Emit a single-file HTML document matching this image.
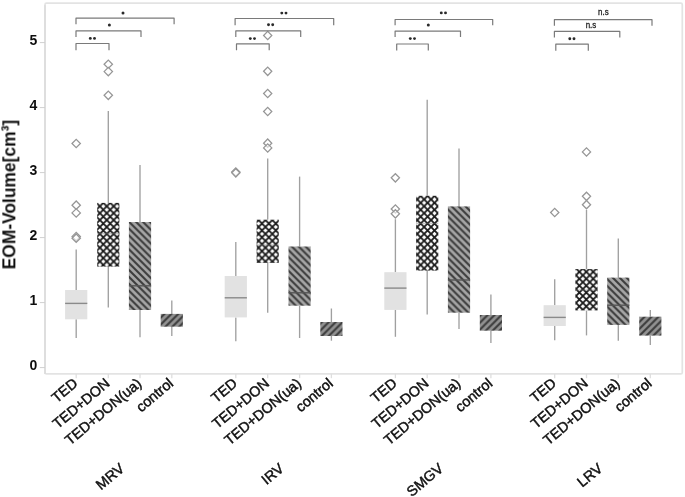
<!DOCTYPE html>
<html><head><meta charset="utf-8"><title>EOM-Volume box plot</title>
<style>
html,body{margin:0;padding:0;background:#fff;}
body{width:685px;height:497px;overflow:hidden;font-family:"Liberation Sans",sans-serif;}
svg{display:block;}
text{font-family:"Liberation Sans",sans-serif;}
</style></head><body>
<svg width="685" height="497" viewBox="0 0 685 497">
<defs>
<pattern id="xh" patternUnits="userSpaceOnUse" width="6.9" height="6.9" patternTransform="translate(3.25,6.2)">
<rect width="6.9" height="6.9" fill="#fff"/>
<path d="M-1,-1 L7.9,7.9 M-1,7.9 L7.9,-1" stroke="#1a1a1a" stroke-width="1.8" fill="none"/>
</pattern>
<pattern id="bs" patternUnits="userSpaceOnUse" width="6.9" height="6.9" patternTransform="translate(3.9,0)">
<rect width="6.9" height="6.9" fill="#a6a6a6"/>
<path d="M-1,-1 L7.9,7.9 M-1,5.9 L1,7.9 M5.9,-1 L7.9,1" stroke="#3c3c3c" stroke-width="2.1" fill="none"/>
</pattern>
<pattern id="fs" patternUnits="userSpaceOnUse" width="6.9" height="6.9" patternTransform="translate(2.3,0)">
<rect width="6.9" height="6.9" fill="#929292"/>
<path d="M-1,7.9 L7.9,-1 M-1,1 L1,-1 M5.9,7.9 L7.9,5.9" stroke="#3c3c3c" stroke-width="2.1" fill="none"/>
</pattern>
<filter id="soft" x="0" y="0" width="685" height="497" filterUnits="userSpaceOnUse"><feGaussianBlur stdDeviation="0.6"/></filter>
</defs>
<rect width="685" height="497" fill="#fff"/>
<g filter="url(#soft)">
<rect width="685" height="497" fill="#fff"/>

<rect x="45.0" y="3.2" width="637.3" height="370.7" rx="1.5" fill="none" stroke="#e3e3e3" stroke-width="1.7"/>
<line x1="45.0" x2="45.0" y1="5.2" y2="373.9" stroke="#dcdcdc" stroke-width="1.7"/>
<line x1="39.8" x2="45.0" y1="367.6" y2="367.6" stroke="#d0d0d0" stroke-width="1"/>
<text x="37.3" y="370.0" font-size="14.8" font-weight="bold" text-anchor="end" fill="#111" textLength="7.8" lengthAdjust="spacingAndGlyphs">0</text>
<line x1="39.8" x2="45.0" y1="302.6" y2="302.6" stroke="#d0d0d0" stroke-width="1"/>
<text x="37.3" y="305.0" font-size="14.8" font-weight="bold" text-anchor="end" fill="#111" textLength="7.8" lengthAdjust="spacingAndGlyphs">1</text>
<line x1="39.8" x2="45.0" y1="237.6" y2="237.6" stroke="#d0d0d0" stroke-width="1"/>
<text x="37.3" y="240.0" font-size="14.8" font-weight="bold" text-anchor="end" fill="#111" textLength="7.8" lengthAdjust="spacingAndGlyphs">2</text>
<line x1="39.8" x2="45.0" y1="172.6" y2="172.6" stroke="#d0d0d0" stroke-width="1"/>
<text x="37.3" y="175.0" font-size="14.8" font-weight="bold" text-anchor="end" fill="#111" textLength="7.8" lengthAdjust="spacingAndGlyphs">3</text>
<line x1="39.8" x2="45.0" y1="107.6" y2="107.6" stroke="#d0d0d0" stroke-width="1"/>
<text x="37.3" y="110.0" font-size="14.8" font-weight="bold" text-anchor="end" fill="#111" textLength="7.8" lengthAdjust="spacingAndGlyphs">4</text>
<line x1="39.8" x2="45.0" y1="42.6" y2="42.6" stroke="#d0d0d0" stroke-width="1"/>
<text x="37.3" y="45.0" font-size="14.8" font-weight="bold" text-anchor="end" fill="#111" textLength="7.8" lengthAdjust="spacingAndGlyphs">5</text>
<text transform="translate(15.4,194.6) rotate(-90) scale(1,1.065)" font-size="17.4" font-weight="bold" text-anchor="middle" fill="#111">EOM-Volume[cm³]</text>
<line x1="76.2" x2="76.2" y1="373.9" y2="378.2" stroke="#dedede" stroke-width="1.3"/>
<line x1="76.2" x2="76.2" y1="249.6" y2="290.0" stroke="#a0a0a0" stroke-width="1.35"/>
<line x1="76.2" x2="76.2" y1="319.3" y2="338.0" stroke="#a0a0a0" stroke-width="1.35"/>
<rect x="65.1" y="290.0" width="22.2" height="29.3" fill="#e2e2e2"/>
<line x1="65.1" x2="87.3" y1="303.4" y2="303.4" stroke="#8a8a8a" stroke-width="1.4"/>
<path d="M72.0,143.5 L76.2,139.3 L80.4,143.5 L76.2,147.7 Z" fill="#fff" fill-opacity="0.6" stroke="#969696" stroke-width="1.25"/>
<path d="M72.0,205.2 L76.2,201.0 L80.4,205.2 L76.2,209.3 Z" fill="#fff" fill-opacity="0.6" stroke="#969696" stroke-width="1.25"/>
<path d="M72.0,212.9 L76.2,208.8 L80.4,212.9 L76.2,217.1 Z" fill="#fff" fill-opacity="0.6" stroke="#969696" stroke-width="1.25"/>
<path d="M72.0,236.6 L76.2,232.4 L80.4,236.6 L76.2,240.8 Z" fill="#fff" fill-opacity="0.6" stroke="#969696" stroke-width="1.25"/>
<path d="M72.0,238.2 L76.2,234.0 L80.4,238.2 L76.2,242.3 Z" fill="#fff" fill-opacity="0.6" stroke="#969696" stroke-width="1.25"/>
<text transform="translate(78.7,384.9) rotate(-40)" font-size="14.4" text-anchor="end" fill="#111" stroke="#111" stroke-width="0.45">TED</text>
<line x1="108.3" x2="108.3" y1="373.9" y2="378.2" stroke="#dedede" stroke-width="1.3"/>
<line x1="108.3" x2="108.3" y1="111.0" y2="202.9" stroke="#a0a0a0" stroke-width="1.35"/>
<line x1="108.3" x2="108.3" y1="266.6" y2="307.6" stroke="#a0a0a0" stroke-width="1.35"/>
<rect x="97.2" y="202.9" width="22.2" height="63.7" fill="url(#xh)"/>
<line x1="97.2" x2="119.4" y1="233.6" y2="233.6" stroke="#777" stroke-opacity="0.4" stroke-width="1.3"/>
<path d="M104.1,64.2 L108.3,60.1 L112.5,64.2 L108.3,68.4 Z" fill="#fff" fill-opacity="0.6" stroke="#969696" stroke-width="1.25"/>
<path d="M104.1,71.6 L108.3,67.4 L112.5,71.6 L108.3,75.8 Z" fill="#fff" fill-opacity="0.6" stroke="#969696" stroke-width="1.25"/>
<path d="M104.1,95.3 L108.3,91.1 L112.5,95.3 L108.3,99.5 Z" fill="#fff" fill-opacity="0.6" stroke="#969696" stroke-width="1.25"/>
<text transform="translate(110.8,384.9) rotate(-40)" font-size="14.4" text-anchor="end" fill="#111" stroke="#111" stroke-width="0.45">TED+DON</text>
<line x1="140.0" x2="140.0" y1="373.9" y2="378.2" stroke="#dedede" stroke-width="1.3"/>
<line x1="140.0" x2="140.0" y1="165.0" y2="222.0" stroke="#a0a0a0" stroke-width="1.35"/>
<line x1="140.0" x2="140.0" y1="310.0" y2="337.2" stroke="#a0a0a0" stroke-width="1.35"/>
<rect x="128.9" y="222.0" width="22.2" height="88.0" fill="url(#bs)"/>
<line x1="128.9" x2="151.1" y1="285.8" y2="285.8" stroke="#555" stroke-width="1.4"/>
<text transform="translate(142.5,384.9) rotate(-40)" font-size="14.4" text-anchor="end" fill="#111" stroke="#111" stroke-width="0.45">TED+DON(ua)</text>
<line x1="171.8" x2="171.8" y1="373.9" y2="378.2" stroke="#dedede" stroke-width="1.3"/>
<line x1="171.8" x2="171.8" y1="300.6" y2="313.9" stroke="#a0a0a0" stroke-width="1.35"/>
<line x1="171.8" x2="171.8" y1="326.7" y2="336.0" stroke="#a0a0a0" stroke-width="1.35"/>
<rect x="160.7" y="313.9" width="22.2" height="12.8" fill="url(#fs)"/>
<text transform="translate(174.3,384.9) rotate(-40)" font-size="14.4" text-anchor="end" fill="#111" stroke="#111" stroke-width="0.45">control</text>
<text transform="translate(125.4,470) rotate(-40)" font-size="14.4" text-anchor="end" fill="#111" stroke="#111" stroke-width="0.45">MRV</text>
<line x1="235.8" x2="235.8" y1="373.9" y2="378.2" stroke="#dedede" stroke-width="1.3"/>
<line x1="235.8" x2="235.8" y1="241.9" y2="276.0" stroke="#a0a0a0" stroke-width="1.35"/>
<line x1="235.8" x2="235.8" y1="317.4" y2="341.2" stroke="#a0a0a0" stroke-width="1.35"/>
<rect x="224.7" y="276.0" width="22.2" height="41.4" fill="#e2e2e2"/>
<line x1="224.7" x2="246.9" y1="297.8" y2="297.8" stroke="#8a8a8a" stroke-width="1.4"/>
<path d="M231.7,172.0 L235.8,167.8 L240.0,172.0 L235.8,176.2 Z" fill="#fff" fill-opacity="0.6" stroke="#969696" stroke-width="1.25"/>
<path d="M231.7,172.8 L235.8,168.7 L240.0,172.8 L235.8,177.0 Z" fill="#fff" fill-opacity="0.6" stroke="#969696" stroke-width="1.25"/>
<text transform="translate(238.3,384.9) rotate(-40)" font-size="14.4" text-anchor="end" fill="#111" stroke="#111" stroke-width="0.45">TED</text>
<line x1="267.7" x2="267.7" y1="373.9" y2="378.2" stroke="#dedede" stroke-width="1.3"/>
<line x1="267.7" x2="267.7" y1="158.4" y2="219.7" stroke="#a0a0a0" stroke-width="1.35"/>
<line x1="267.7" x2="267.7" y1="262.9" y2="312.7" stroke="#a0a0a0" stroke-width="1.35"/>
<rect x="256.6" y="219.7" width="22.2" height="43.2" fill="url(#xh)"/>
<line x1="256.6" x2="278.8" y1="245.0" y2="245.0" stroke="#777" stroke-opacity="0.4" stroke-width="1.3"/>
<path d="M263.6,35.5 L267.7,31.4 L271.8,35.5 L267.7,39.6 Z" fill="#fff" fill-opacity="0.6" stroke="#969696" stroke-width="1.25"/>
<path d="M263.6,71.3 L267.7,67.1 L271.8,71.3 L267.7,75.5 Z" fill="#fff" fill-opacity="0.6" stroke="#969696" stroke-width="1.25"/>
<path d="M263.6,93.5 L267.7,89.3 L271.8,93.5 L267.7,97.7 Z" fill="#fff" fill-opacity="0.6" stroke="#969696" stroke-width="1.25"/>
<path d="M263.6,111.5 L267.7,107.3 L271.8,111.5 L267.7,115.7 Z" fill="#fff" fill-opacity="0.6" stroke="#969696" stroke-width="1.25"/>
<path d="M263.6,143.2 L267.7,139.0 L271.8,143.2 L267.7,147.3 Z" fill="#fff" fill-opacity="0.6" stroke="#969696" stroke-width="1.25"/>
<path d="M263.6,147.9 L267.7,143.8 L271.8,147.9 L267.7,152.1 Z" fill="#fff" fill-opacity="0.6" stroke="#969696" stroke-width="1.25"/>
<text transform="translate(270.2,384.9) rotate(-40)" font-size="14.4" text-anchor="end" fill="#111" stroke="#111" stroke-width="0.45">TED+DON</text>
<line x1="299.6" x2="299.6" y1="373.9" y2="378.2" stroke="#dedede" stroke-width="1.3"/>
<line x1="299.6" x2="299.6" y1="176.6" y2="246.5" stroke="#a0a0a0" stroke-width="1.35"/>
<line x1="299.6" x2="299.6" y1="305.7" y2="338.0" stroke="#a0a0a0" stroke-width="1.35"/>
<rect x="288.5" y="246.5" width="22.2" height="59.2" fill="url(#bs)"/>
<line x1="288.5" x2="310.7" y1="292.8" y2="292.8" stroke="#555" stroke-width="1.4"/>
<text transform="translate(302.1,384.9) rotate(-40)" font-size="14.4" text-anchor="end" fill="#111" stroke="#111" stroke-width="0.45">TED+DON(ua)</text>
<line x1="331.4" x2="331.4" y1="373.9" y2="378.2" stroke="#dedede" stroke-width="1.3"/>
<line x1="331.4" x2="331.4" y1="308.5" y2="322.0" stroke="#a0a0a0" stroke-width="1.35"/>
<line x1="331.4" x2="331.4" y1="336.0" y2="340.7" stroke="#a0a0a0" stroke-width="1.35"/>
<rect x="320.3" y="322.0" width="22.2" height="14.0" fill="url(#fs)"/>
<text transform="translate(333.9,384.9) rotate(-40)" font-size="14.4" text-anchor="end" fill="#111" stroke="#111" stroke-width="0.45">control</text>
<text transform="translate(284.8,470) rotate(-40)" font-size="14.4" text-anchor="end" fill="#111" stroke="#111" stroke-width="0.45">IRV</text>
<line x1="395.4" x2="395.4" y1="373.9" y2="378.2" stroke="#dedede" stroke-width="1.3"/>
<line x1="395.4" x2="395.4" y1="219.2" y2="272.2" stroke="#a0a0a0" stroke-width="1.35"/>
<line x1="395.4" x2="395.4" y1="309.9" y2="336.8" stroke="#a0a0a0" stroke-width="1.35"/>
<rect x="384.3" y="272.2" width="22.2" height="37.7" fill="#e2e2e2"/>
<line x1="384.3" x2="406.5" y1="288.1" y2="288.1" stroke="#8a8a8a" stroke-width="1.4"/>
<path d="M391.2,177.8 L395.4,173.7 L399.5,177.8 L395.4,182.0 Z" fill="#fff" fill-opacity="0.6" stroke="#969696" stroke-width="1.25"/>
<path d="M391.2,209.0 L395.4,204.8 L399.5,209.0 L395.4,213.2 Z" fill="#fff" fill-opacity="0.6" stroke="#969696" stroke-width="1.25"/>
<path d="M391.2,213.8 L395.4,209.7 L399.5,213.8 L395.4,218.0 Z" fill="#fff" fill-opacity="0.6" stroke="#969696" stroke-width="1.25"/>
<text transform="translate(397.9,384.9) rotate(-40)" font-size="14.4" text-anchor="end" fill="#111" stroke="#111" stroke-width="0.45">TED</text>
<line x1="427.2" x2="427.2" y1="373.9" y2="378.2" stroke="#dedede" stroke-width="1.3"/>
<line x1="427.2" x2="427.2" y1="99.8" y2="195.8" stroke="#a0a0a0" stroke-width="1.35"/>
<line x1="427.2" x2="427.2" y1="270.6" y2="314.6" stroke="#a0a0a0" stroke-width="1.35"/>
<rect x="416.1" y="195.8" width="22.2" height="74.8" fill="url(#xh)"/>
<line x1="416.1" x2="438.3" y1="223.5" y2="223.5" stroke="#777" stroke-opacity="0.4" stroke-width="1.3"/>
<text transform="translate(429.7,384.9) rotate(-40)" font-size="14.4" text-anchor="end" fill="#111" stroke="#111" stroke-width="0.45">TED+DON</text>
<line x1="459.0" x2="459.0" y1="373.9" y2="378.2" stroke="#dedede" stroke-width="1.3"/>
<line x1="459.0" x2="459.0" y1="148.6" y2="206.4" stroke="#a0a0a0" stroke-width="1.35"/>
<line x1="459.0" x2="459.0" y1="312.7" y2="329.0" stroke="#a0a0a0" stroke-width="1.35"/>
<rect x="447.9" y="206.4" width="22.2" height="106.3" fill="url(#bs)"/>
<line x1="447.9" x2="470.1" y1="280.0" y2="280.0" stroke="#555" stroke-width="1.4"/>
<text transform="translate(461.5,384.9) rotate(-40)" font-size="14.4" text-anchor="end" fill="#111" stroke="#111" stroke-width="0.45">TED+DON(ua)</text>
<line x1="490.9" x2="490.9" y1="373.9" y2="378.2" stroke="#dedede" stroke-width="1.3"/>
<line x1="490.9" x2="490.9" y1="294.5" y2="315.0" stroke="#a0a0a0" stroke-width="1.35"/>
<line x1="490.9" x2="490.9" y1="330.7" y2="343.0" stroke="#a0a0a0" stroke-width="1.35"/>
<rect x="479.8" y="315.0" width="22.2" height="15.7" fill="url(#fs)"/>
<text transform="translate(493.4,384.9) rotate(-40)" font-size="14.4" text-anchor="end" fill="#111" stroke="#111" stroke-width="0.45">control</text>
<text transform="translate(444.3,470) rotate(-40)" font-size="14.4" text-anchor="end" fill="#111" stroke="#111" stroke-width="0.45">SMGV</text>
<line x1="554.7" x2="554.7" y1="373.9" y2="378.2" stroke="#dedede" stroke-width="1.3"/>
<line x1="554.7" x2="554.7" y1="279.3" y2="305.2" stroke="#a0a0a0" stroke-width="1.35"/>
<line x1="554.7" x2="554.7" y1="326.0" y2="340.3" stroke="#a0a0a0" stroke-width="1.35"/>
<rect x="543.6" y="305.2" width="22.2" height="20.8" fill="#e2e2e2"/>
<line x1="543.6" x2="565.8" y1="317.4" y2="317.4" stroke="#8a8a8a" stroke-width="1.4"/>
<path d="M550.6,212.5 L554.7,208.3 L558.9,212.5 L554.7,216.7 Z" fill="#fff" fill-opacity="0.6" stroke="#969696" stroke-width="1.25"/>
<text transform="translate(557.2,384.9) rotate(-40)" font-size="14.4" text-anchor="end" fill="#111" stroke="#111" stroke-width="0.45">TED</text>
<line x1="586.5" x2="586.5" y1="373.9" y2="378.2" stroke="#dedede" stroke-width="1.3"/>
<line x1="586.5" x2="586.5" y1="209.9" y2="269.0" stroke="#a0a0a0" stroke-width="1.35"/>
<line x1="586.5" x2="586.5" y1="310.4" y2="335.4" stroke="#a0a0a0" stroke-width="1.35"/>
<rect x="575.4" y="269.0" width="22.2" height="41.4" fill="url(#xh)"/>
<line x1="575.4" x2="597.6" y1="290.0" y2="290.0" stroke="#777" stroke-opacity="0.4" stroke-width="1.3"/>
<path d="M582.4,151.9 L586.5,147.8 L590.6,151.9 L586.5,156.1 Z" fill="#fff" fill-opacity="0.6" stroke="#969696" stroke-width="1.25"/>
<path d="M582.4,196.3 L586.5,192.2 L590.6,196.3 L586.5,200.5 Z" fill="#fff" fill-opacity="0.6" stroke="#969696" stroke-width="1.25"/>
<path d="M582.4,204.7 L586.5,200.5 L590.6,204.7 L586.5,208.8 Z" fill="#fff" fill-opacity="0.6" stroke="#969696" stroke-width="1.25"/>
<text transform="translate(589.0,384.9) rotate(-40)" font-size="14.4" text-anchor="end" fill="#111" stroke="#111" stroke-width="0.45">TED+DON</text>
<line x1="618.3" x2="618.3" y1="373.9" y2="378.2" stroke="#dedede" stroke-width="1.3"/>
<line x1="618.3" x2="618.3" y1="238.6" y2="277.6" stroke="#a0a0a0" stroke-width="1.35"/>
<line x1="618.3" x2="618.3" y1="324.9" y2="340.7" stroke="#a0a0a0" stroke-width="1.35"/>
<rect x="607.2" y="277.6" width="22.2" height="47.3" fill="url(#bs)"/>
<line x1="607.2" x2="629.4" y1="305.2" y2="305.2" stroke="#555" stroke-width="1.4"/>
<text transform="translate(620.8,384.9) rotate(-40)" font-size="14.4" text-anchor="end" fill="#111" stroke="#111" stroke-width="0.45">TED+DON(ua)</text>
<line x1="650.3" x2="650.3" y1="373.9" y2="378.2" stroke="#dedede" stroke-width="1.3"/>
<line x1="650.3" x2="650.3" y1="309.9" y2="316.7" stroke="#a0a0a0" stroke-width="1.35"/>
<line x1="650.3" x2="650.3" y1="335.6" y2="345.0" stroke="#a0a0a0" stroke-width="1.35"/>
<rect x="639.2" y="316.7" width="22.2" height="18.9" fill="url(#fs)"/>
<text transform="translate(652.8,384.9) rotate(-40)" font-size="14.4" text-anchor="end" fill="#111" stroke="#111" stroke-width="0.45">control</text>
<text transform="translate(603.6,470) rotate(-40)" font-size="14.4" text-anchor="end" fill="#111" stroke="#111" stroke-width="0.45">LRV</text>
<path d="M76.0,24.3 L76.0,18.1 L174.1,18.1 L174.1,24.3" fill="none" stroke="#7a7a7a" stroke-width="1.2" stroke-linejoin="round"/>
<circle cx="123.0" cy="13.1" r="1.5" fill="#2a2a2a"/>
<path d="M76.0,36.9 L76.0,30.900000000000002 L141.0,30.900000000000002 L141.0,36.9" fill="none" stroke="#7a7a7a" stroke-width="1.2" stroke-linejoin="round"/>
<circle cx="109.4" cy="25.0" r="1.5" fill="#2a2a2a"/>
<path d="M76.0,50.2 L76.0,43.5 L109.0,43.5 L109.0,50.2" fill="none" stroke="#7a7a7a" stroke-width="1.2" stroke-linejoin="round"/>
<circle cx="90.3" cy="38.4" r="1.45" fill="#2a2a2a"/><circle cx="94.5" cy="38.4" r="1.45" fill="#2a2a2a"/>
<path d="M235.1,25.2 L235.1,18.5 L333.7,18.5 L333.7,25.2" fill="none" stroke="#7a7a7a" stroke-width="1.2" stroke-linejoin="round"/>
<circle cx="281.8" cy="13.1" r="1.45" fill="#2a2a2a"/><circle cx="286.0" cy="13.1" r="1.45" fill="#2a2a2a"/>
<path d="M235.8,36.9 L235.8,30.900000000000002 L300.7,30.900000000000002 L300.7,36.9" fill="none" stroke="#7a7a7a" stroke-width="1.2" stroke-linejoin="round"/>
<circle cx="268.5" cy="24.8" r="1.45" fill="#2a2a2a"/><circle cx="272.7" cy="24.8" r="1.45" fill="#2a2a2a"/>
<path d="M236.5,50.2 L236.5,43.8 L269.2,43.8 L269.2,50.2" fill="none" stroke="#7a7a7a" stroke-width="1.2" stroke-linejoin="round"/>
<circle cx="250.3" cy="38.6" r="1.45" fill="#2a2a2a"/><circle cx="254.5" cy="38.6" r="1.45" fill="#2a2a2a"/>
<path d="M395.1,25.2 L395.1,19.5 L492.7,19.5 L492.7,25.2" fill="none" stroke="#7a7a7a" stroke-width="1.2" stroke-linejoin="round"/>
<circle cx="441.3" cy="12.9" r="1.45" fill="#2a2a2a"/><circle cx="445.5" cy="12.9" r="1.45" fill="#2a2a2a"/>
<path d="M395.1,36.9 L395.1,31.1 L460.5,31.1 L460.5,36.9" fill="none" stroke="#7a7a7a" stroke-width="1.2" stroke-linejoin="round"/>
<circle cx="428.3" cy="25.0" r="1.5" fill="#2a2a2a"/>
<path d="M396.7,50.5 L396.7,44.0 L428.3,44.0 L428.3,50.5" fill="none" stroke="#7a7a7a" stroke-width="1.2" stroke-linejoin="round"/>
<circle cx="410.3" cy="38.6" r="1.45" fill="#2a2a2a"/><circle cx="414.5" cy="38.6" r="1.45" fill="#2a2a2a"/>
<path d="M554.4,25.7 L554.4,19.7 L652.0,19.7 L652.0,25.7" fill="none" stroke="#7a7a7a" stroke-width="1.2" stroke-linejoin="round"/>
<text x="603.4" y="14.7" font-size="9" text-anchor="middle" fill="#222" stroke="#222" stroke-width="0.3" textLength="10.6" lengthAdjust="spacingAndGlyphs">n.s</text>
<path d="M554.4,37.4 L554.4,31.400000000000002 L619.8,31.400000000000002 L619.8,37.4" fill="none" stroke="#7a7a7a" stroke-width="1.2" stroke-linejoin="round"/>
<text x="591.0" y="27.8" font-size="9" text-anchor="middle" fill="#222" stroke="#222" stroke-width="0.3" textLength="10.6" lengthAdjust="spacingAndGlyphs">n.s</text>
<path d="M555.8,50.7 L555.8,44.199999999999996 L588.3,44.199999999999996 L588.3,50.7" fill="none" stroke="#7a7a7a" stroke-width="1.2" stroke-linejoin="round"/>
<circle cx="569.8" cy="38.8" r="1.45" fill="#2a2a2a"/><circle cx="574.0" cy="38.8" r="1.45" fill="#2a2a2a"/>
</g></svg></body></html>
